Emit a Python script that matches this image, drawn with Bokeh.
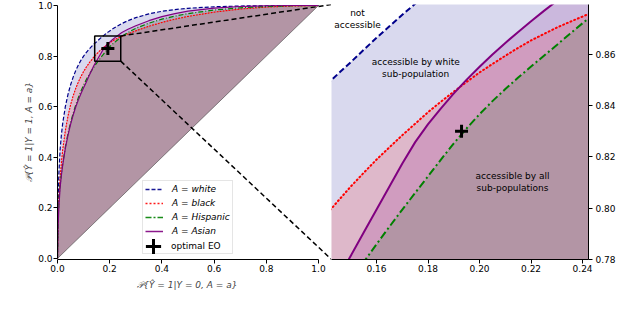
from bokeh.plotting import figure
from bokeh.layouts import row
from bokeh.models import (Legend, LegendItem, FixedTicker, PrintfTickFormatter,
                          Range1d)
from bokeh.core.properties import value
from bokeh.embed import file_html
from bokeh.resources import INLINE

FONT = "DejaVu Sans"

# ---------------- data ----------------
group_labels = ["A = white", "A = black", "A = Hispanic", "A = Asian"]
group_colors = ["darkblue", "red", "green", "purple"]

fpr = [0, 0.002, 0.005, 0.01, 0.015, 0.02, 0.03, 0.04, 0.05, 0.06, 0.07, 0.08,
       0.09, 0.10, 0.11, 0.12, 0.13,
       0.14, 0.145, 0.15, 0.155, 0.16, 0.165, 0.17, 0.175, 0.18, 0.185, 0.19,
       0.195, 0.20, 0.205, 0.21, 0.215, 0.22, 0.225, 0.23, 0.235, 0.24, 0.245,
       0.25,
       0.27, 0.30, 0.35, 0.40, 0.45, 0.50, 0.60, 0.70, 0.80, 0.90, 1.0]

tpr_white = [0, 0.20, 0.33, 0.43, 0.49, 0.535, 0.60, 0.648, 0.686, 0.717, 0.743,
             0.765, 0.784, 0.80, 0.814, 0.8265, 0.8375,
             0.8477, 0.8524, 0.857, 0.8618, 0.8665, 0.871, 0.8755, 0.8798, 0.884,
             0.888, 0.892, 0.8958, 0.8995, 0.9031, 0.9065, 0.9098, 0.913, 0.916,
             0.919, 0.922, 0.925, 0.9278, 0.9305,
             0.94, 0.952, 0.967, 0.977, 0.984, 0.989, 0.995, 0.998, 0.999, 1.0, 1.0]

tpr_black = [0, 0.14, 0.23, 0.32, 0.38, 0.43, 0.505, 0.562, 0.607, 0.643, 0.673,
             0.698, 0.72, 0.739, 0.756, 0.771, 0.7845,
             0.797, 0.8028, 0.8085, 0.8138, 0.819, 0.8238, 0.8285, 0.833, 0.8375,
             0.8416, 0.8455, 0.8493, 0.853, 0.8563, 0.8595, 0.8626, 0.8655, 0.868,
             0.8705, 0.8727, 0.8748, 0.877, 0.879,
             0.888, 0.90, 0.918, 0.933, 0.946, 0.957, 0.974, 0.986, 0.994, 0.998, 1.0]

tpr_hispanic = [0, 0.13, 0.22, 0.29, 0.335, 0.375, 0.44, 0.493, 0.537, 0.574,
                0.607, 0.636, 0.662, 0.685, 0.706, 0.725, 0.742,
                0.7575, 0.765, 0.772, 0.779, 0.786, 0.7928, 0.7995, 0.806, 0.8125,
                0.819, 0.8253, 0.8312, 0.8367, 0.8418, 0.8465, 0.851, 0.8553,
                0.8595, 0.8637, 0.868, 0.8722, 0.8764, 0.8805,
                0.8935, 0.91, 0.93, 0.946, 0.958, 0.968, 0.982, 0.991, 0.996,
                0.999, 1.0]

tpr_asian = [0, 0.12, 0.20, 0.28, 0.33, 0.37, 0.435, 0.487, 0.53, 0.567, 0.60,
             0.627, 0.652, 0.675, 0.697, 0.72, 0.742,
             0.7635, 0.7725, 0.7815, 0.7905, 0.7995, 0.8085, 0.8175, 0.8258,
             0.8328, 0.839, 0.8448, 0.8502, 0.8552, 0.86, 0.8645, 0.8688, 0.873,
             0.877, 0.8809, 0.8847, 0.8884, 0.892, 0.8955,
             0.906, 0.92, 0.94, 0.956, 0.968, 0.978, 0.99, 0.996, 0.999, 1.0, 1.0]

tprs = [tpr_white, tpr_black, tpr_hispanic, tpr_asian]

eo_fpr = [0.193]
eo_tpr = [0.83]

left_ticks = [0.0, 0.2, 0.4, 0.6, 0.8, 1.0]
zoom_x = [0.1425, 0.2423]
zoom_y = [0.78, 0.8795]
zoom_xticks = [0.16, 0.18, 0.20, 0.22, 0.24]
zoom_yticks = [0.78, 0.80, 0.82, 0.84, 0.86]

ann_x = [0.1526, 0.1752, 0.2128]
ann_y = [0.8739, 0.8549, 0.8102]
ann_text = ["not\naccessible", "accessible by white\nsub-population",
            "accessible by all\nsub-populations"]

# trailing no-break spaces re-centre the label over the 0..1 part of the axis
xlabel = "𝒫{Ŷ = 1|Y = 0, A = a}" + "\u00a0" * 5
ylabel = "𝒫{Ŷ = 1|Y = 1, A = a}"

# ---------------- styles ----------------
left_dash = ["4 2", "1 2", "5 2 1 2", "solid"]
right_dash = ["6 3", "1 3", "8 3 2 3", "solid"]
legend_dash = ["4 2", "2 2", "6 2 2 2", "solid"]


def style_axis(ax, fmt, ticks):
    ax.ticker = FixedTicker(ticks=ticks)
    ax.formatter = PrintfTickFormatter(format=fmt)
    ax.major_label_text_font = FONT
    ax.major_label_text_font_size = "9px"
    ax.major_label_text_color = "black"
    ax.axis_line_color = "black"
    ax.axis_line_width = 1
    ax.major_tick_line_color = "black"
    ax.major_tick_in = 0
    ax.major_tick_out = 4
    ax.minor_tick_line_color = None
    ax.major_label_standoff = 1
    ax.axis_label_text_font = FONT
    ax.axis_label_text_font_size = "9px"
    ax.axis_label_text_font_style = "italic"


def draw_curves(p, dashes, lw):
    rends = []
    for tpr, col in zip(tprs, group_colors):
        p.varea(x=fpr, y1=fpr, y2=tpr, fill_color=col, fill_alpha=0.15)
    p.line(x=[0, 1], y=[0, 1], line_color="#444444", line_width=0.6)
    for tpr, col, d in zip(tprs, group_colors, dashes):
        r = p.line(x=fpr, y=tpr, line_color=col, line_width=lw, line_dash=d,
                   line_cap="round" if d.startswith("1 ") else "butt")
        rends.append(r)
    return rends


# ---------------- left figure ----------------
p1 = figure(width=331, height=295, x_range=Range1d(0, 1.0498),
            y_range=Range1d(-0.004, 1.004), output_backend="svg",
            toolbar_location=None, min_border_left=57, min_border_right=0,
            min_border_top=4, min_border_bottom=36)
p1.outline_line_color = None
p1.grid.visible = False
p1.background_fill_color = "white"
style_axis(p1.xaxis[0], "%.1f", left_ticks)
style_axis(p1.yaxis[0], "%.1f", left_ticks)
p1.xaxis.bounds = (0, 1)
p1.yaxis.bounds = (0, 1)
p1.xaxis.axis_label = xlabel
p1.yaxis.axis_label = ylabel
p1.xaxis.axis_label_standoff = 5
p1.yaxis.axis_label_standoff = 1

draw_curves(p1, left_dash, 1.2)
eo1 = p1.scatter(x=eo_fpr, y=eo_tpr, marker="cross", size=13, line_width=3,
                 line_color="black")
p1.quad(left=[zoom_x[0]], right=[zoom_x[1]], bottom=[zoom_y[0]], top=[zoom_y[1]],
        fill_color=None, line_color="black", line_width=1.5)
p1.segment(x0=[zoom_x[1], zoom_x[1]], y0=[zoom_y[1], zoom_y[0]],
           x1=[p1.x_range.end, p1.x_range.end],
           y1=[p1.y_range.end, p1.y_range.start],
           line_color="black", line_width=1.5, line_dash="5 3")

# legend-only sample renderers (NaN data: nothing drawn in the plot)
nan = float("nan")
leg_lines = [p1.line(x=[nan, nan], y=[nan, nan], line_color=col, line_width=1.5,
                     line_dash=d, line_alpha=0.9)
             for col, d in zip(group_colors, legend_dash)]
dummy = p1.scatter(x=[], y=[], marker="cross", alpha=0)

leg_kw = dict(location=(85, 5), padding=2, spacing=2, glyph_height=12,
              label_height=12, glyph_width=18, label_standoff=9, margin=0,
              label_text_font=FONT, label_text_font_size="9px",
              label_text_color="black")
items1 = [LegendItem(label=value(lab), renderers=[r])
          for lab, r in zip(group_labels, leg_lines)]
items1.append(LegendItem(label=value(" "), renderers=[dummy]))
leg1 = Legend(items=items1, label_text_font_style="italic",
              border_line_color="#cccccc", border_line_width=1,
              background_fill_color="white", background_fill_alpha=0.85, **leg_kw)
leg3 = Legend(items=[LegendItem(label=value("optimal EO"), renderers=[dummy])],
              border_line_alpha=0, background_fill_alpha=0, **leg_kw)
# large "+" sample for the optimal EO entry
leg2 = Legend(items=[LegendItem(label=value(" "), renderers=[eo1])],
              location=(77, -6), padding=0, glyph_width=38, glyph_height=38,
              label_standoff=0, label_width=1, margin=0,
              border_line_alpha=0, background_fill_alpha=0,
              label_text_font_size="9px")
p1.add_layout(leg1)
p1.add_layout(leg3)
p1.add_layout(leg2)

# ---------------- right (zoom) figure ----------------
p2 = figure(width=287, height=295, x_range=Range1d(*zoom_x),
            y_range=Range1d(*zoom_y), y_axis_location="right",
            output_backend="svg", toolbar_location=None, min_border_left=0,
            min_border_right=30, min_border_top=4, min_border_bottom=36)
p2.outline_line_color = None
p2.grid.visible = False
style_axis(p2.xaxis[0], "%.2f", zoom_xticks)
style_axis(p2.yaxis[0], "%.2f", zoom_yticks)
p2.yaxis.major_label_standoff = 3

draw_curves(p2, right_dash, 2)
p2.scatter(x=eo_fpr, y=eo_tpr, marker="cross", size=13, line_width=3,
           line_color="black")
p2.text(x=ann_x, y=ann_y, text=ann_text, text_font=value(FONT),
        text_font_size="9px", text_align="center", text_baseline="middle",
        text_line_height=1.2, text_color="black")

layout = row(p1, p2)
open("out.html", "w").write(file_html(layout, INLINE))
